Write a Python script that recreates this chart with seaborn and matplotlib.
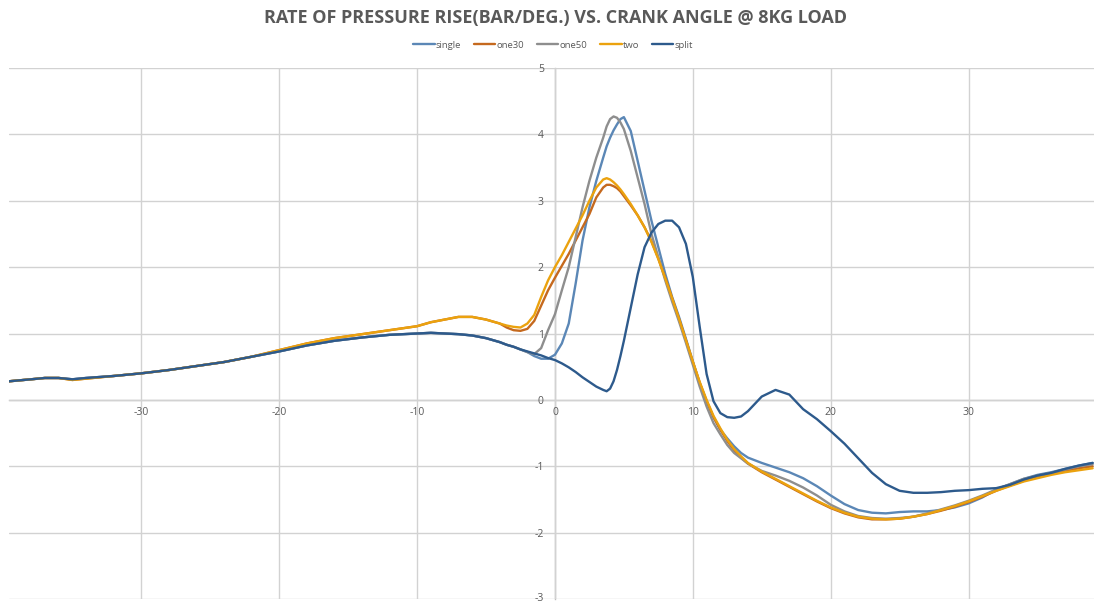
import matplotlib
matplotlib.use("Agg")
import matplotlib.pyplot as plt
import matplotlib.transforms as mtransforms
import seaborn as sns
import pandas as pd

# Crank angle (deg) shared by all runs
crank_angle = [-39.6, -38, -37, -36, -35, -34, -32, -30, -28, -26, -24, -22, -20,
               -18, -16, -14, -12, -10, -9, -8, -7, -6, -5, -4, -3.5, -3, -2.5,
               -2, -1.5, -1, -0.5, 0, 0.5, 1, 1.5, 2, 2.5, 3, 3.5, 3.75, 4, 4.25, 4.5, 4.75, 5,
               5.5, 6, 6.5, 7, 7.5, 8, 8.5, 9, 9.5, 10, 10.5, 11, 11.5, 12,
               12.5, 13, 13.5, 14, 15, 16, 17, 18, 19, 20, 21, 22, 23, 24, 25,
               26, 27, 28, 29, 30, 31, 32, 33, 34, 35, 36, 37, 38, 39]

# Rate of pressure rise (bar/deg)
single = [0.28, 0.31, 0.33, 0.33, 0.31, 0.33, 0.36, 0.40, 0.45, 0.51, 0.57, 0.65, 0.73,
          0.82, 0.89, 0.94, 0.98, 1.00, 1.01, 1.00, 0.99, 0.97, 0.93, 0.87, 0.83, 0.80, 0.76,
          0.72, 0.66, 0.62, 0.62, 0.68, 0.85, 1.15, 1.75, 2.40, 2.90, 3.30, 3.65, 3.82, 3.95, 4.06, 4.15, 4.23, 4.26,
          4.05, 3.60, 3.15, 2.70, 2.30, 1.90, 1.55, 1.25, 0.92, 0.58, 0.25, -0.02, -0.26, -0.45,
          -0.58, -0.70, -0.80, -0.87, -0.95, -1.02, -1.09, -1.18, -1.30, -1.44, -1.57, -1.66, -1.70, -1.71, -1.69,
          -1.68, -1.68, -1.66, -1.62, -1.56, -1.47, -1.35, -1.27, -1.19, -1.13, -1.09, -1.04, -0.99, -0.95]

one30 = [0.28, 0.31, 0.33, 0.33, 0.30, 0.32, 0.36, 0.40, 0.45, 0.51, 0.57, 0.65, 0.75,
         0.85, 0.93, 0.99, 1.05, 1.11, 1.17, 1.21, 1.25, 1.25, 1.21, 1.15, 1.09, 1.05, 1.04,
         1.07, 1.19, 1.42, 1.65, 1.84, 2.02, 2.20, 2.40, 2.60, 2.80, 3.05, 3.20, 3.24, 3.24, 3.22, 3.19, 3.14, 3.07,
         2.93, 2.78, 2.60, 2.39, 2.13, 1.84, 1.53, 1.22, 0.90, 0.57, 0.26, -0.02, -0.26, -0.45,
         -0.62, -0.76, -0.87, -0.96, -1.09, -1.20, -1.31, -1.42, -1.53, -1.63, -1.71, -1.77, -1.80, -1.80, -1.79,
         -1.76, -1.72, -1.67, -1.61, -1.54, -1.46, -1.37, -1.29, -1.22, -1.16, -1.11, -1.07, -1.03, -1.00]

one50 = [0.28, 0.31, 0.33, 0.33, 0.31, 0.33, 0.36, 0.40, 0.45, 0.51, 0.57, 0.65, 0.73,
         0.82, 0.89, 0.94, 0.98, 1.00, 1.01, 1.00, 0.99, 0.97, 0.93, 0.87, 0.83, 0.80, 0.76,
         0.72, 0.69, 0.78, 1.05, 1.29, 1.65, 2.00, 2.45, 2.90, 3.30, 3.65, 3.95, 4.12, 4.23, 4.27, 4.25, 4.18, 4.08,
         3.75, 3.35, 2.95, 2.50, 2.15, 1.80, 1.48, 1.18, 0.86, 0.53, 0.20, -0.10, -0.35, -0.52,
         -0.68, -0.80, -0.88, -0.96, -1.07, -1.14, -1.22, -1.32, -1.44, -1.58, -1.68, -1.75, -1.78, -1.79, -1.78,
         -1.76, -1.71, -1.65, -1.59, -1.52, -1.44, -1.35, -1.27, -1.19, -1.14, -1.10, -1.05, -1.00, -0.97]

two = [0.28, 0.31, 0.33, 0.33, 0.30, 0.32, 0.36, 0.40, 0.45, 0.51, 0.57, 0.65, 0.75,
       0.85, 0.93, 0.99, 1.05, 1.11, 1.17, 1.21, 1.25, 1.25, 1.21, 1.15, 1.12, 1.10, 1.09,
       1.15, 1.28, 1.55, 1.80, 2.00, 2.18, 2.38, 2.58, 2.78, 3.00, 3.20, 3.32, 3.34, 3.32, 3.28, 3.23, 3.17, 3.10,
       2.95, 2.78, 2.60, 2.38, 2.12, 1.83, 1.53, 1.22, 0.90, 0.58, 0.27, 0.00, -0.24, -0.43,
       -0.60, -0.74, -0.85, -0.95, -1.08, -1.19, -1.30, -1.41, -1.52, -1.62, -1.70, -1.76, -1.79, -1.80, -1.79,
       -1.76, -1.72, -1.66, -1.60, -1.53, -1.45, -1.37, -1.30, -1.23, -1.18, -1.13, -1.09, -1.06, -1.03]

split = [0.28, 0.31, 0.33, 0.33, 0.31, 0.33, 0.36, 0.40, 0.45, 0.51, 0.57, 0.65, 0.73,
         0.82, 0.89, 0.94, 0.98, 1.00, 1.01, 1.00, 0.99, 0.97, 0.93, 0.87, 0.83, 0.80, 0.76,
         0.73, 0.70, 0.67, 0.63, 0.60, 0.55, 0.49, 0.42, 0.34, 0.27, 0.20, 0.15, 0.13, 0.17, 0.28, 0.45, 0.66, 0.89,
         1.39, 1.89, 2.30, 2.52, 2.65, 2.70, 2.70, 2.60, 2.35, 1.85, 1.10, 0.39, -0.02, -0.20,
         -0.26, -0.27, -0.25, -0.17, 0.05, 0.15, 0.08, -0.14, -0.29, -0.47, -0.66, -0.88, -1.10, -1.27, -1.37,
         -1.40, -1.40, -1.39, -1.37, -1.36, -1.34, -1.33, -1.28, -1.20, -1.14, -1.10, -1.04, -0.99, -0.95]

series_names = ["single", "one30", "one50", "two", "split"]
series_values = [single, one30, one50, two, split]
colors = ["#5B87B6", "#C5691E", "#8E8E8E", "#EBA20E", "#2D5A8C"]

frames = [pd.DataFrame({"angle": crank_angle, "rate": vals, "run": name})
          for name, vals in zip(series_names, series_values)]
df = pd.concat(frames, ignore_index=True)

sns.set_theme(style="white")
plt.rcParams["font.family"] = ["Open Sans", "DejaVu Sans"]

fig = plt.figure(figsize=(10.94, 6.03), dpi=100)
ax = fig.add_axes([9 / 1094, 4 / 603, 1 - 9 / 1094, (599 - 68) / 603])

sns.lineplot(data=df, x="angle", y="rate", hue="run", hue_order=series_names,
             palette=dict(zip(series_names, colors)), sort=False, estimator=None,
             linewidth=1.7, ax=ax, legend=False)

xticks = [-30, -20, -10, 0, 10, 20, 30]
yticks = list(range(-3, 6))
ax.set_xlim(-39.6, 39.1)
ax.set_ylim(-3, 5)
ax.set_xticks(xticks)
ax.set_yticks(yticks)
ax.grid(True, color="#D2D2D2", linewidth=1.0)
ax.set_axisbelow(True)

# Axes cross at the origin
for side in ["top", "right"]:
    ax.spines[side].set_visible(False)
ax.spines["left"].set_position(("data", 0))
ax.spines["bottom"].set_position(("data", 0))
for side in ["left", "bottom"]:
    ax.spines[side].set_color("#BFBFBF")
    ax.spines[side].set_linewidth(1.0)
    ax.spines[side].set_zorder(0.5)

ax.tick_params(axis="both", length=0, labelsize=7.5, labelcolor="#595959")
ax.tick_params(axis="y", pad=8)
ax.tick_params(axis="x", pad=5)
ax.set_xticklabels([str(t) for t in xticks])
ax.set_yticklabels([str(t) for t in yticks])
ax.set_xlabel("")
ax.set_ylabel("")

# keep the lowest y label inside the canvas
lowest = ax.get_yticklabels()[0]
lowest.set_transform(lowest.get_transform() +
                     mtransforms.ScaledTranslation(0, 2 / 100, fig.dpi_scale_trans))

handles = [plt.Line2D([], [], color=c, linewidth=1.7) for c in colors]
fig.legend(handles, series_names, loc="center", bbox_to_anchor=(553 / 1094, 1 - 45 / 603),
           ncol=5, frameon=False, fontsize=6.8, handlelength=2.3, handletextpad=0.15,
           columnspacing=1.3, labelcolor="#595959")

fig.text(555 / 1094, 1 - 18 / 603, "RATE OF PRESSURE RISE(BAR/DEG.) VS. CRANK ANGLE @ 8KG LOAD",
         ha="center", va="center", fontsize=13, fontweight="bold", color="#595959")

fig.savefig("out.png", dpi=100)
